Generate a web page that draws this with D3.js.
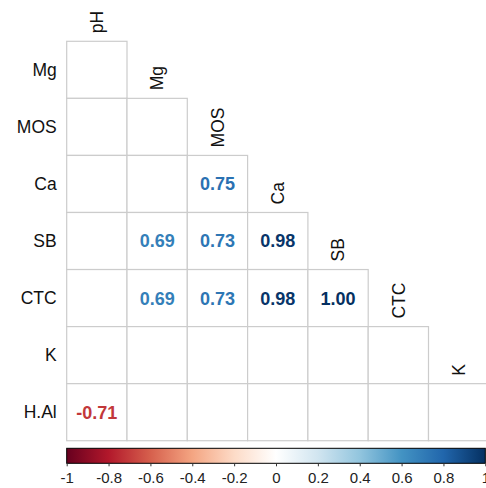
<!DOCTYPE html>
<html>
<head>
<meta charset="utf-8">
<script src="https://cdn.jsdelivr.net/npm/d3@7"></script>
<style>
  body { margin: 0; background: #fff; }
  text { font-family: "Liberation Sans", Arial, sans-serif; }
</style>
</head>
<body>
<div id="chart"></div>
<script>
const rowVars = ['Mg', 'MOS', 'Ca', 'SB', 'CTC', 'K', 'H.Al'];
const colVars = ['pH', 'Mg', 'MOS', 'Ca', 'SB', 'CTC', 'K'];
// lower triangle, null = not significant (blank cell)
const corrValues = [
    [null],
    [null, null],
    [null, null, 0.75],
    [null, 0.69, 0.73, 0.98],
    [null, 0.69, 0.73, 0.98, 1.00],
    [null, null, null, null, null, null],
    [-0.71, null, null, null, null, null, null]
];
const legendTicks = [-1, -0.8, -0.6, -0.4, -0.2, 0, 0.2, 0.4, 0.6, 0.8, 1];
const palette = ['#67001F', '#B2182B', '#D6604D', '#F4A582', '#FDDBC7', '#FFFFFF',
                 '#D1E5F0', '#92C5DE', '#4393C3', '#2166AC', '#053061'];

const width = 486;
const height = 488;

const svg = d3.select('#chart')
    .append('svg')
    .attr('width', width)
    .attr('height', height);

const gridLeft = 66.7, gridTop = 41.3, cellW = 60.3, cellH = 57.06;

const x = d3.scaleBand()
    .domain(colVars)
    .range([gridLeft, gridLeft + cellW * colVars.length]);
const y = d3.scaleBand()
    .domain(rowVars)
    .range([gridTop, gridTop + cellH * rowVars.length]);

const color = d3.scaleLinear()
    .domain(d3.range(palette.length).map(i => -1 + i * 0.2))
    .range(palette);

const cells = [];
corrValues.forEach((row, i) => {
    row.forEach((v, j) => {
        cells.push({ row: rowVars[i], col: colVars[j], value: v });
    });
});

svg.selectAll('.cell')
    .data(cells)
    .enter()
    .append('rect')
    .classed('cell', true)
    .attr('x', d => x(d.col))
    .attr('y', d => y(d.row))
    .attr('width', x.bandwidth())
    .attr('height', y.bandwidth())
    .attr('fill', '#fff')
    .attr('stroke', '#cccccc')
    .attr('stroke-width', 1.2);

svg.selectAll('.num')
    .data(cells.filter(d => d.value !== null))
    .enter()
    .append('text')
    .classed('num', true)
    .attr('x', d => x(d.col) + x.bandwidth() / 2)
    .attr('y', d => y(d.row) + y.bandwidth() / 2)
    .attr('dy', '0.36em')
    .attr('text-anchor', 'middle')
    .style('font-size', '18px')
    .style('font-weight', 'bold')
    .attr('fill', d => color(d.value))
    .text(d => d.value.toFixed(2));

// row labels
svg.selectAll('.rowlab')
    .data(rowVars)
    .enter()
    .append('text')
    .classed('rowlab', true)
    .attr('x', gridLeft - 10)
    .attr('y', d => y(d) + y.bandwidth() / 2)
    .attr('dy', '0.36em')
    .attr('text-anchor', 'end')
    .style('font-size', '17.5px')
    .attr('fill', '#111')
    .text(d => d);

// column labels, above first cell of each column
svg.selectAll('.collab')
    .data(colVars)
    .enter()
    .append('text')
    .classed('collab', true)
    .attr('transform', (d, j) =>
        `translate(${x(d) + x.bandwidth() / 2},${y(rowVars[j]) - 8}) rotate(-90)`)
    .attr('dy', '0.36em')
    .attr('text-anchor', 'start')
    .style('font-size', '17.5px')
    .attr('fill', '#111')
    .text(d => d);

// colour bar
const barX = d3.scaleLinear().domain([-1, 1]).range([gridLeft, 485.3]);
const barTop = 448.3, barH = 15;

const grad = svg.append('defs')
    .append('linearGradient')
    .attr('id', 'grad')
    .attr('x1', '0%').attr('x2', '100%');
grad.selectAll('stop')
    .data(palette)
    .enter()
    .append('stop')
    .attr('offset', (d, i) => (i / (palette.length - 1) * 100) + '%')
    .attr('stop-color', d => d);

svg.append('rect')
    .attr('x', barX(-1))
    .attr('y', barTop)
    .attr('width', barX(1) - barX(-1))
    .attr('height', barH)
    .attr('fill', 'url(#grad)')
    .attr('stroke', '#000')
    .attr('stroke-width', 1);

const legendAxis = d3.axisBottom(barX)
    .tickValues(legendTicks)
    .tickSize(3)
    .tickPadding(6)
    .tickFormat(d => String(d));

const ax = svg.append('g')
    .attr('transform', `translate(0,${barTop + barH})`)
    .call(legendAxis);
ax.select('.domain').remove();
ax.selectAll('line').attr('stroke', '#333');
ax.selectAll('text')
    .style('font-size', '15px')
    .attr('fill', '#222')
    .style('font-family', '"Liberation Sans", Arial, sans-serif');
</script>
</body>
</html>
